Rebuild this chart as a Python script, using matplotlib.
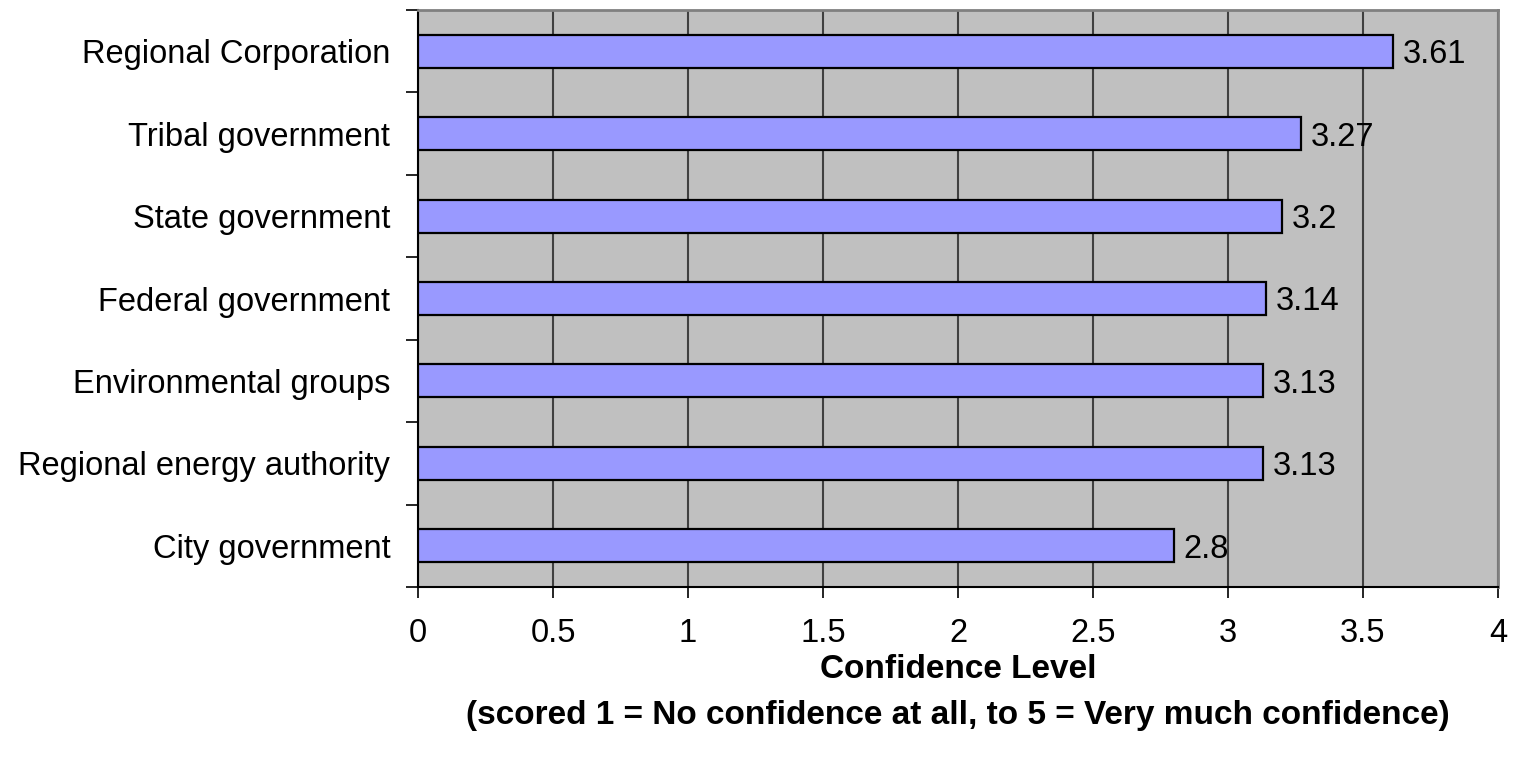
import matplotlib.pyplot as plt
import numpy as np

plt.rcParams['font.family'] = ['Liberation Sans', 'DejaVu Sans']

categories = ["Regional Corporation", "Tribal government", "State government",
              "Federal government", "Environmental groups",
              "Regional energy authority", "City government"]
scores = [3.61, 3.27, 3.2, 3.14, 3.13, 3.13, 2.8]
score_labels = ["3.61", "3.27", "3.2", "3.14", "3.13", "3.13", "2.8"]
xticks = [0, 0.5, 1, 1.5, 2, 2.5, 3, 3.5, 4]
xtick_labels = ["0", "0.5", "1", "1.5", "2", "2.5", "3", "3.5", "4"]

fig = plt.figure(figsize=(15.16, 7.59), dpi=100)
ax = fig.add_axes([418 / 1516, 1 - 587 / 759, 1080 / 1516, 577 / 759])
ax.set_facecolor("#C0C0C0")

pos = np.arange(len(categories))[::-1]
ax.barh(pos, scores, height=0.4, color="#9999FF", edgecolor="black",
        linewidth=1.6, zorder=3)

for p, v, lab in zip(pos, scores, score_labels):
    ax.annotate(lab, (v, p), xytext=(7, 0), textcoords="offset points",
                va="center_baseline", ha="left", fontsize=23.5, zorder=4)

ax.set_xlim(0, 4)
ax.set_ylim(-0.5, len(categories) - 0.5)

# vertical grid at each x tick
ax.set_xticks(xticks)
ax.set_xticklabels(xtick_labels, fontsize=23.5)
ax.xaxis.grid(True, color="#404040", linewidth=1.5, zorder=1)
ax.set_axisbelow(True)

# category labels centred, ticks on the boundaries
ax.set_yticks(pos)
ax.set_yticklabels(categories, fontsize=23.5)
ax.set_yticks(np.arange(-0.5, len(categories), 1), minor=True)
ax.tick_params(axis="y", which="major", length=0, pad=20)
ax.tick_params(axis="y", which="minor", length=9, width=1.2, color="black")
ax.tick_params(axis="x", length=8, width=1.2, pad=14)

for side in ["top", "right"]:
    ax.spines[side].set_color("#808080")
    ax.spines[side].set_linewidth(2)
for side in ["left", "bottom"]:
    ax.spines[side].set_color("black")
    ax.spines[side].set_linewidth(1.5)

ax.set_xlabel("Confidence Level\n(scored 1 = No confidence at all, to 5 = Very much confidence)",
              fontsize=24, fontweight="bold", labelpad=4, linespacing=1.6)

fig.savefig("out.png", dpi=100)
